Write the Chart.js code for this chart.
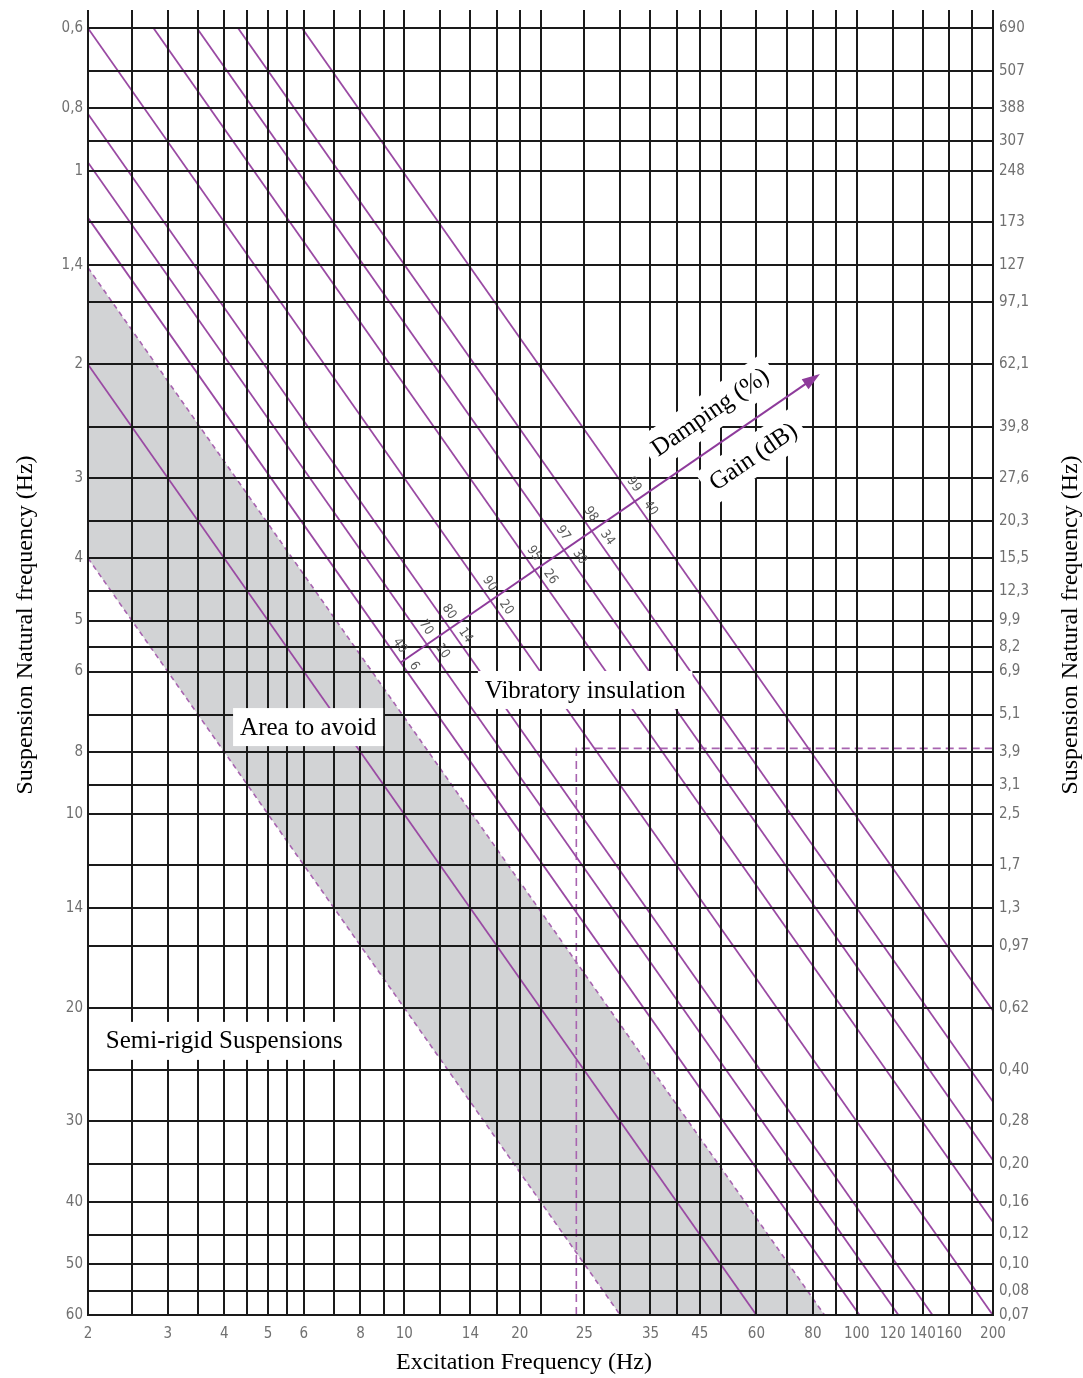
<!DOCTYPE html>
<html>
<head>
<meta charset="utf-8">
<script src="https://cdn.jsdelivr.net/npm/chart.js@4.4.1/dist/chart.umd.min.js"></script>
<style>
  html, body { margin: 0; padding: 0; background: #fff; }
  #wrap { width: 1083px; height: 1378px; }
</style>
</head>
<body>
<div id="wrap"><canvas id="chart"></canvas></div>
<script>
// excitation frequency grid lines (Hz)
const xGrid = [2, 2.5, 3, 3.5, 4, 4.5, 5, 5.5, 6, 7, 8, 9, 10, 12, 14, 16, 18, 20, 25, 30, 35, 40, 45, 50, 60, 70, 80, 90, 100, 120, 140, 160, 180, 200];
// printed labels ("20" sits on the 18 line in the original)
const xLabelAt = [2, 3, 4, 5, 6, 8, 10, 14, 18, 25, 35, 45, 60, 80, 100, 120, 140, 160, 200];
const xLabelText = ["2", "3", "4", "5", "6", "8", "10", "14", "20", "25", "35", "45", "60", "80", "100", "120", "140", "160", "200"];

// suspension natural frequency grid lines (Hz)
const yGrid = [0.6, 0.7, 0.8, 0.9, 1, 1.2, 1.4, 1.6, 2, 2.5, 3, 3.5, 4, 4.5, 5, 5.5, 6, 7, 8, 9, 10, 12, 14, 16, 20, 25, 30, 35, 40, 45, 50, 55, 60];
const yLabelAt = [0.6, 0.8, 1, 1.4, 2, 3, 4, 5, 6, 8, 10, 14, 20, 30, 40, 50, 60];
const yLabelText = ["0,6", "0,8", "1", "1,4", "2", "3", "4", "5", "6", "8", "10", "14", "20", "30", "40", "50", "60"];
// static deflection printed on the right, one per horizontal line
const deflection = ["690", "507", "388", "307", "248", "173", "127", "97,1", "62,1", "39,8", "27,6", "20,3", "15,5", "12,3", "9,9", "8,2", "6,9", "5,1", "3,9", "3,1", "2,5", "1,7", "1,3", "0,97", "0,62", "0,40", "0,28", "0,20", "0,16", "0,12", "0,10", "0,08", "0,07"];

// isolation lines: damping %, gain dB, and fe/fn ratio
const isolationPct = [40, 70, 80, 90, 95, 97, 98, 99];
const gainDb = [6, 10, 14, 20, 26, 30, 34, 40];
const isolationRatio = [1.69, 2.06, 2.45, 3.33, 4.65, 5.8, 7.15, 9.9];
const resonanceRatio = 1;
const avoidBand = [0.5, 1.414]; // dashed edges of the grey band
const semiRigidFe = 24;
const semiRigidFn = 7.9;

const X_MIN = 2, X_MAX = 200, Y_MIN = 0.6, Y_MAX = 60;
const PURPLE = "#9a4aa3";
const DASHED = "#a864b0";
const ARROW = "#8e3b9b";
const GRID = "#1a1a1a";
const TICK_FONT = { family: '"DejaVu Sans Condensed", "Liberation Sans Narrow", "DejaVu Sans", sans-serif', size: 15 };
const SERIF = '"Liberation Serif", "Times New Roman", serif';

// line of constant fe/fn clipped to the chart frame
function ratioLine(r) {
  const fn0 = Math.max(Y_MIN, X_MIN / r);
  const fn1 = Math.min(Y_MAX, X_MAX / r);
  return [{ x: r * fn0, y: fn0 }, { x: r * fn1, y: fn1 }];
}

function intersect(a, b, c, d) {
  const r = { x: b.x - a.x, y: b.y - a.y }, s = { x: d.x - c.x, y: d.y - c.y };
  const den = r.x * s.y - r.y * s.x;
  const t = ((c.x - a.x) * s.y - (c.y - a.y) * s.x) / den;
  return { x: a.x + t * r.x, y: a.y + t * r.y };
}

const datasets = [
  {
    // grey band: fill below the upper dashed edge
    data: ratioLine(avoidBand[1]),
    borderColor: DASHED, borderWidth: 1.6, borderDash: [5, 4],
    backgroundColor: "#d2d3d5", fill: { value: Y_MAX }, order: 3,
  },
  {
    // white out below the lower dashed edge
    data: ratioLine(avoidBand[0]),
    borderColor: DASHED, borderWidth: 1.6, borderDash: [5, 4],
    backgroundColor: "#ffffff", fill: { value: Y_MAX }, order: 2,
  },
  { data: ratioLine(resonanceRatio), borderColor: PURPLE, borderWidth: 1.8, fill: false, order: 1 },
];
isolationRatio.forEach((r) => {
  datasets.push({ data: ratioLine(r), borderColor: PURPLE, borderWidth: 1.8, fill: false, order: 1 });
});
datasets.push({
  data: [{ x: semiRigidFe, y: Y_MAX }, { x: semiRigidFe, y: semiRigidFn }, { x: X_MAX, y: semiRigidFn }],
  borderColor: DASHED, borderWidth: 1.6, borderDash: [8, 5], fill: false, order: 1,
});
datasets.forEach((d) => { d.showLine = true; d.pointRadius = 0; d.tension = 0; });

const setTicks = (values) => (scale) => { scale.ticks = values.map((v) => ({ value: v })); };
const labelOf = (at, text) => (v) => { const i = at.indexOf(v); return i >= 0 ? text[i] : ""; };

const annotate = {
  id: "annotate",
  afterDraw(chart) {
    const ctx = chart.ctx;
    const sx = chart.scales.x, sy = chart.scales.y;
    const px = (fe, fn) => ({ x: sx.getPixelForValue(fe), y: sy.getPixelForValue(fn) });

    ctx.save();
    // arrow across the isolation lines
    const a0 = px(9.82, 5.81), a1 = px(82.9, 2.07);
    const al = Math.hypot(a1.x - a0.x, a1.y - a0.y);
    const u = { x: (a1.x - a0.x) / al, y: (a1.y - a0.y) / al };
    const arrowAng = Math.atan2(u.y, u.x);
    ctx.strokeStyle = ARROW; ctx.fillStyle = ARROW; ctx.lineWidth = 2;
    ctx.beginPath(); ctx.moveTo(a0.x, a0.y); ctx.lineTo(a1.x - u.x * 12, a1.y - u.y * 12); ctx.stroke();
    ctx.beginPath();
    ctx.moveTo(a1.x, a1.y);
    ctx.lineTo(a1.x - u.x * 18 + u.y * 6, a1.y - u.y * 18 - u.x * 6);
    ctx.lineTo(a1.x - u.x * 18 - u.y * 6, a1.y - u.y * 18 + u.x * 6);
    ctx.closePath(); ctx.fill();

    // small damping / gain labels along each isolation line
    ctx.font = '13px "DejaVu Sans Condensed", "Liberation Sans Narrow", sans-serif';
    ctx.fillStyle = "#5a5a5a"; ctx.textAlign = "center"; ctx.textBaseline = "middle";
    isolationRatio.forEach((r, i) => {
      const [p, q] = ratioLine(r).map((pt) => px(pt.x, pt.y));
      const X = intersect(a0, a1, p, q);
      const dl = Math.hypot(q.x - p.x, q.y - p.y);
      const d = { x: (q.x - p.x) / dl, y: (q.y - p.y) / dl };
      const n = { x: d.y, y: -d.x };
      const ang = Math.atan2(d.y, d.x);
      const put = (txt, side) => {
        const w = ctx.measureText(txt).width;
        const k = side * (7 + w / 2);
        ctx.save();
        ctx.translate(X.x + n.x * 9 + d.x * k, X.y + n.y * 9 + d.y * k);
        ctx.rotate(ang);
        ctx.fillText(txt, 0, 0);
        ctx.restore();
      };
      put(String(isolationPct[i]), -1);
      put(String(gainDb[i]), 1);
    });

    // white boxed captions
    ctx.font = "25px " + SERIF;
    const box = (txt, p, ang) => {
      ctx.save();
      ctx.translate(p.x, p.y);
      ctx.rotate(ang);
      const w = ctx.measureText(txt).width;
      ctx.fillStyle = "#fff";
      ctx.fillRect(-w / 2 - 7, -19, w + 14, 38);
      ctx.fillStyle = "#000";
      ctx.fillText(txt, 0, 1);
      ctx.restore();
    };
    box("Vibratory insulation", px(25.1, 6.41), 0);
    box("Area to avoid", px(6.13, 7.32), 0);
    box("Semi-rigid Suspensions", px(4.0, 22.5), 0);
    box("Damping (%)", px(47.4, 2.37), arrowAng);
    box("Gain (dB)", px(59, 2.78), arrowAng);

    // axis titles
    ctx.font = "24px " + SERIF;
    ctx.fillStyle = "#000";
    ctx.fillText("Excitation Frequency (Hz)", 524, 1363);
    [26, 1071].forEach((x) => {
      ctx.save();
      ctx.translate(x, 625);
      ctx.rotate(-Math.PI / 2);
      ctx.fillText("Suspension Natural frequency (Hz)", 0, 0);
      ctx.restore();
    });
    ctx.restore();
  },
};

new Chart(document.getElementById("chart"), {
  type: "scatter",
  data: { datasets },
  options: {
    responsive: true,
    maintainAspectRatio: false,
    animation: false,
    layout: { padding: 0 },
    plugins: { legend: { display: false }, tooltip: { enabled: false } },
    scales: {
      x: {
        type: "logarithmic", position: "bottom", min: X_MIN, max: X_MAX,
        afterBuildTicks: setTicks(xGrid),
        afterFit: (s) => { s.height = 63; },
        grid: { color: GRID, lineWidth: 2, drawTicks: false, z: 1 },
        border: { display: true, color: GRID, width: 2, z: 1 },
        ticks: { callback: labelOf(xLabelAt, xLabelText), autoSkip: false, maxRotation: 0, minRotation: 0, padding: 10, color: "#707070", font: TICK_FONT },
      },
      x2: {
        type: "logarithmic", position: "top", min: X_MIN, max: X_MAX,
        afterBuildTicks: setTicks(xGrid),
        afterFit: (s) => { s.height = 28; },
        grid: { color: GRID, lineWidth: 2, drawOnChartArea: false, drawTicks: true, tickLength: 18, z: 1 },
        border: { display: false },
        ticks: { display: false },
      },
      y: {
        type: "logarithmic", position: "left", min: Y_MIN, max: Y_MAX, reverse: true,
        afterBuildTicks: setTicks(yGrid),
        afterFit: (s) => { s.width = 88; },
        grid: { color: GRID, lineWidth: 2, drawTicks: false, z: 1 },
        border: { display: true, color: GRID, width: 2, z: 1 },
        ticks: { callback: labelOf(yLabelAt, yLabelText), autoSkip: false, padding: 5, color: "#707070", font: TICK_FONT },
      },
      y2: {
        type: "logarithmic", position: "right", min: Y_MIN, max: Y_MAX, reverse: true,
        afterBuildTicks: setTicks(yGrid),
        afterFit: (s) => { s.width = 90; },
        grid: { drawOnChartArea: false, drawTicks: false },
        border: { display: true, color: GRID, width: 2, z: 1 },
        ticks: { callback: (v, i) => deflection[i], autoSkip: false, padding: 6, color: "#707070", font: TICK_FONT },
      },
    },
  },
  plugins: [annotate],
});
</script>
</body>
</html>
